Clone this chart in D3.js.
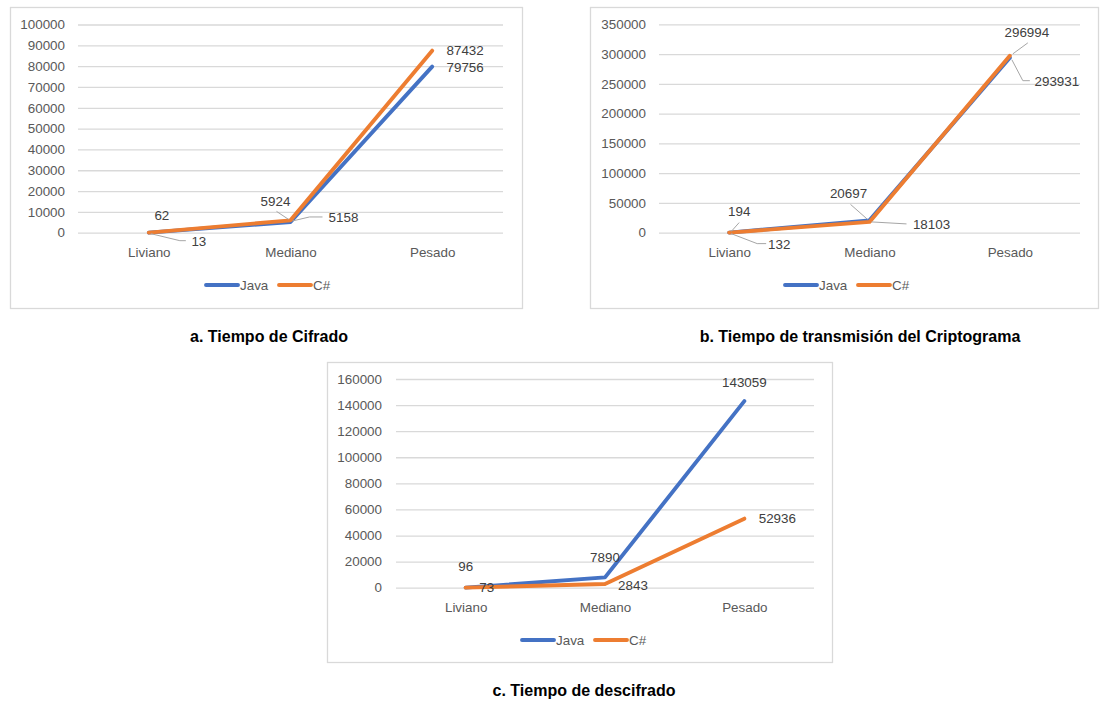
<!DOCTYPE html>
<html>
<head>
<meta charset="utf-8">
<script src="https://cdn.jsdelivr.net/npm/d3@7"></script>
<style>
  html, body { margin: 0; padding: 0; background: #ffffff; }
  svg { display: block; font-family: "Liberation Sans", Arial, sans-serif; }
</style>
</head>
<body>
<svg id="chart" width="1106" height="702"></svg>
<script>
// ---- data ----
const categories = ["Liviano", "Mediano", "Pesado"];
const seriesNames = ["Java", "C#"];

const cifradoJava = [13, 5158, 79756];
const cifradoCSharp = [62, 5924, 87432];

const transmisionJava = [194, 20697, 293931];
const transmisionCSharp = [132, 18103, 296994];

const descifradoJava = [96, 7890, 143059];
const descifradoCSharp = [73, 2843, 52936];

const cifradoTicks = [0, 10000, 20000, 30000, 40000, 50000, 60000, 70000, 80000, 90000, 100000];
const transmisionTicks = [0, 50000, 100000, 150000, 200000, 250000, 300000, 350000];
const descifradoTicks = [0, 20000, 40000, 60000, 80000, 100000, 120000, 140000, 160000];

const captions = [
  "a. Tiempo de Cifrado",
  "b. Tiempo de transmisión del Criptograma",
  "c. Tiempo de descifrado"
];

// ---- styling ----
const colors = { "Java": "#4472C4", "C#": "#ED7D31" };
const gridColor = "#d9d9d9";
const axisTextColor = "#595959";
const labelColor = "#404040";
const leaderColor = "#a6a6a6";
const textSize = 13.4;

// ---- panel layouts (frame, plot area, label placement) ----
const panels = [
  {
    series: { "Java": cifradoJava, "C#": cifradoCSharp },
    ticks: cifradoTicks,
    frame: [10, 7, 512, 301],
    plot: { left: 78, right: 503, top: 24.5, bottom: 232.7 },
    tickX: 65, catY: 252, legendY: 285, legendX: 206,
    caption: { text: captions[0], x: 269, y: 336 },
    labels: {
      "Java": [ { dx: 50, dy: 9, leader: [[2, 1], [31, 8], [37, 8]] },
                { dx: 53, dy: -5, leader: [[2, -1], [19, -5], [32, -5]] },
                { dx: 33, dy: 1 } ],
      "C#":   [ { dx: 13, dy: -17 },
                { dx: -15, dy: -19, leader: [[-14, -9], [-2, -1]] },
                { dx: 33, dy: 0 } ]
    }
  },
  {
    series: { "Java": transmisionJava, "C#": transmisionCSharp },
    ticks: transmisionTicks,
    frame: [590, 7, 508, 301],
    plot: { left: 659, right: 1080, top: 24.3, bottom: 232.7 },
    tickX: 646, catY: 252, legendY: 285, legendX: 785,
    caption: { text: captions[1], x: 860, y: 336 },
    labels: {
      "Java": [ { dx: 10, dy: -21, leader: [[10, -10], [2, -1]] },
                { dx: -21, dy: -27, leader: [[-19, -16], [-2, -1]] },
                { dx: 47, dy: 24, leader: [[2, 2], [13, 23], [20, 23]] } ],
      "C#":   [ { dx: 50, dy: 12, leader: [[2, 1], [28, 11], [37, 11]] },
                { dx: 62, dy: 2, leader: [[2, 0], [37, 2]] },
                { dx: 17, dy: -24, leader: [[3, -2], [18, -13]] } ]
    }
  },
  {
    series: { "Java": descifradoJava, "C#": descifradoCSharp },
    ticks: descifradoTicks,
    frame: [327, 362, 505, 300],
    plot: { left: 396, right: 814, top: 379, bottom: 587.7 },
    tickX: 382, catY: 607, legendY: 640, legendX: 522,
    caption: { text: captions[2], x: 584, y: 690 },
    labels: {
      "Java": [ { dx: 0, dy: -21 }, { dx: 0, dy: -20 }, { dx: 0, dy: -19 } ],
      "C#":   [ { dx: 21, dy: 0 }, { dx: 28, dy: 1 }, { dx: 33, dy: 0 } ]
    }
  }
];

const svg = d3.select("#chart");

function drawPanel(p) {
  const g = svg.append("g");

  // chart frame
  g.append("rect")
    .attr("x", p.frame[0] + 0.5).attr("y", p.frame[1] + 0.5)
    .attr("width", p.frame[2]).attr("height", p.frame[3])
    .attr("fill", "#fff").attr("stroke", gridColor).attr("stroke-width", 1.3);

  const x = d3.scalePoint().domain(categories)
    .range([p.plot.left, p.plot.right]).padding(0.5);
  const y = d3.scaleLinear().domain([0, d3.max(p.ticks)])
    .range([p.plot.bottom, p.plot.top]);

  // horizontal gridlines
  const grid = g.append("g")
    .attr("transform", `translate(${p.plot.left},0)`)
    .call(d3.axisLeft(y).tickValues(p.ticks)
      .tickSize(-(p.plot.right - p.plot.left)).tickFormat(""));
  grid.select(".domain").remove();
  grid.selectAll(".tick line").attr("stroke", gridColor).attr("stroke-width", 1.3);

  // value axis labels
  const yAxis = g.append("g")
    .attr("transform", `translate(${p.tickX},0)`)
    .call(d3.axisLeft(y).tickValues(p.ticks).tickSize(0).tickPadding(0)
      .tickFormat(d3.format("d")));
  yAxis.select(".domain").remove();
  yAxis.selectAll("text")
    .attr("fill", axisTextColor).attr("font-size", textSize)
    .attr("font-family", "Liberation Sans, Arial, sans-serif");

  // category axis labels
  const xAxis = g.append("g")
    .attr("transform", `translate(0,${p.catY})`)
    .call(d3.axisBottom(x).tickSize(0).tickPadding(0));
  xAxis.select(".domain").remove();
  xAxis.selectAll("text")
    .attr("y", 0).attr("dy", "0.35em")
    .attr("fill", axisTextColor).attr("font-size", textSize)
    .attr("font-family", "Liberation Sans, Arial, sans-serif");

  // series lines
  const line = d3.line()
    .x((d, i) => x(categories[i]))
    .y(d => y(d));

  seriesNames.forEach(name => {
    g.append("path")
      .datum(p.series[name])
      .attr("d", line)
      .attr("fill", "none")
      .attr("stroke", colors[name])
      .attr("stroke-width", 3.9)
      .attr("stroke-linejoin", "round")
      .attr("stroke-linecap", "round");
  });

  // data labels with leader lines
  seriesNames.forEach(name => {
    p.series[name].forEach((v, i) => {
      const px = x(categories[i]);
      const py = y(v);
      const spec = p.labels[name][i];
      if (spec.leader) {
        g.append("polyline")
          .attr("points", spec.leader.map(o => [px + o[0], py + o[1]].join(",")).join(" "))
          .attr("fill", "none")
          .attr("stroke", leaderColor)
          .attr("stroke-width", 1);
      }
      g.append("text")
        .attr("x", px + spec.dx)
        .attr("y", py + spec.dy)
        .attr("dy", "0.35em")
        .attr("text-anchor", "middle")
        .attr("fill", labelColor)
        .attr("font-size", textSize)
        .text(v);
    });
  });

  // legend
  const legend = g.append("g").attr("transform", `translate(${p.legendX},${p.legendY})`);
  const itemOffsets = [0, 73];
  seriesNames.forEach((name, k) => {
    const item = legend.append("g").attr("transform", `translate(${itemOffsets[k]},0)`);
    item.append("line")
      .attr("x1", 0).attr("x2", 32).attr("y1", 0).attr("y2", 0)
      .attr("stroke", colors[name]).attr("stroke-width", 3.9)
      .attr("stroke-linecap", "round");
    item.append("text")
      .attr("x", 34).attr("y", 0).attr("dy", "0.35em")
      .attr("fill", axisTextColor).attr("font-size", textSize)
      .text(name);
  });

  // caption under the chart
  svg.append("text")
    .attr("x", p.caption.x).attr("y", p.caption.y)
    .attr("dy", "0.35em")
    .attr("text-anchor", "middle")
    .attr("font-weight", "bold")
    .attr("font-size", 16)
    .attr("fill", "#000")
    .text(p.caption.text);
}

panels.forEach(drawPanel);
</script>
</body>
</html>
